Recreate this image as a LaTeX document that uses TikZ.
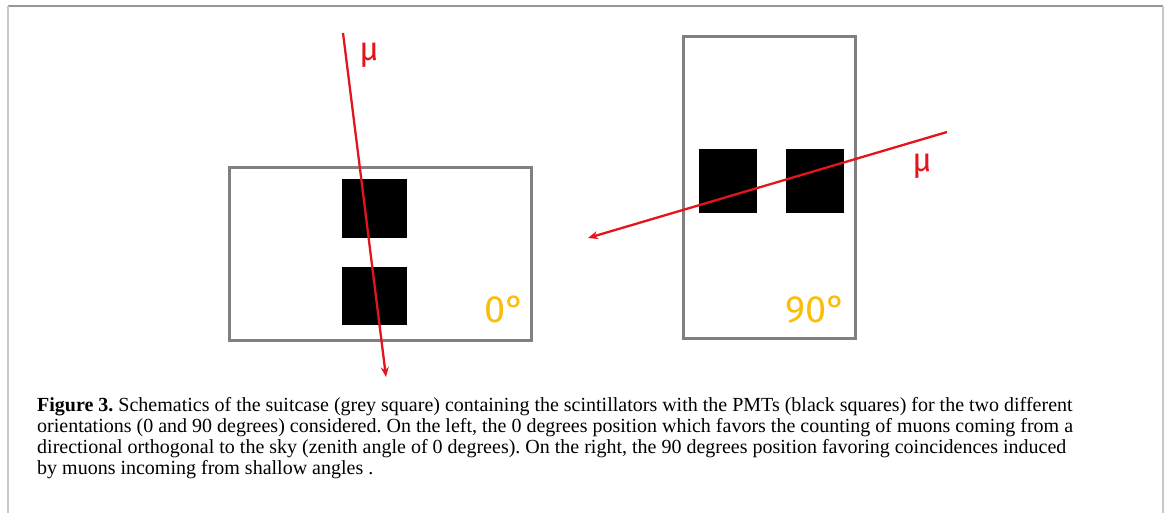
\documentclass[tikz,border=0pt]{standalone}
\usepackage{fontspec}
\setmainfont{Liberation Serif}
\newfontfamily\labelfont{Fira Sans}
\usetikzlibrary{arrows.meta, positioning}
\definecolor{casegrey}{RGB}{128,128,128}
\definecolor{muonred}{RGB}{228,20,28}
\definecolor{anglegold}{RGB}{250,190,10}
\definecolor{sidegrey}{RGB}{200,200,200}
\definecolor{topgrey}{RGB}{150,150,150}
\tikzset{
  suitcase/.style={rectangle, draw=casegrey, line width=3pt, inner sep=0pt},
  pmt/.style={rectangle, fill=black, inner sep=0pt,
    minimum width=65pt, minimum height=58pt},
  pmtrot/.style={pmt, minimum width=58pt, minimum height=64pt},
  muon/.style={-{Stealth[length=10pt,width=8pt]}, line width=2.3pt, color=muonred},
  mulabel/.style={font=\labelfont\fontsize{33}{33}\selectfont, color=muonred, inner sep=0pt},
  anglelabel/.style={font=\labelfont\fontsize{38}{38}\selectfont, color=anglegold, inner sep=0pt},
  caption/.style={anchor=base west, align=left, inner sep=0pt,
    font=\fontsize{20}{20.7}\selectfont}
}
\begin{document}
\frenchspacing
\begin{tikzpicture}[x=1pt, y=-1pt]
  \useasboundingbox (0,0) rectangle (1169,513);
  % page frame
  \draw[topgrey, line width=1.5pt] (8,6) -- (1163,6);
  \draw[sidegrey, line width=2pt] (8,6) -- (8,513);
  \draw[sidegrey, line width=2pt] (1163,6) -- (1163,513);
  % 0 degrees
  \node[suitcase, minimum width=302pt, minimum height=172pt] (case0) at (380,254) {};
  \node[pmt] (pmt0a) at (374.5,208.5) {};
  \node[pmt, below=29pt of pmt0a] (pmt0b) {};
  \node[anglelabel] (ang0) at (505,309) {0°};
  \coordinate (mu0in) at (343,33);
  \coordinate (mu0out) at (386,377);
  \draw[muon] (mu0in) -- (mu0out);
  \node[mulabel] (mu0) at (369,55) {μ};
  % 90 degrees
  \node[suitcase, minimum width=172pt, minimum height=302pt] (case90) at (769.5,187.5) {};
  \node[pmtrot] (pmt90a) at (728,181) {};
  \node[pmtrot, right=29pt of pmt90a] (pmt90b) {};
  \node[anglelabel] (ang90) at (816,310) {90°};
  \coordinate (mu90in) at (947,132);
  \coordinate (mu90out) at (588,238);
  \draw[muon] (mu90in) -- (mu90out);
  \node[mulabel] (mu90) at (922,166) {μ};
  % caption
  \node[caption] (cap) at (37,474) {\textbf{Figure 3.} Schematics of the suitcase (grey square) containing the scintillators with the PMTs (black squares) for the two different\\
orientations (0 and 90 degrees) considered. On the left, the 0 degrees position which favors the counting of muons coming from a\\
directional orthogonal to the sky (zenith angle of 0 degrees). On the right, the 90 degrees position favoring coincidences induced\\
by muons incoming from shallow angles .};
\end{tikzpicture}
\end{document}
